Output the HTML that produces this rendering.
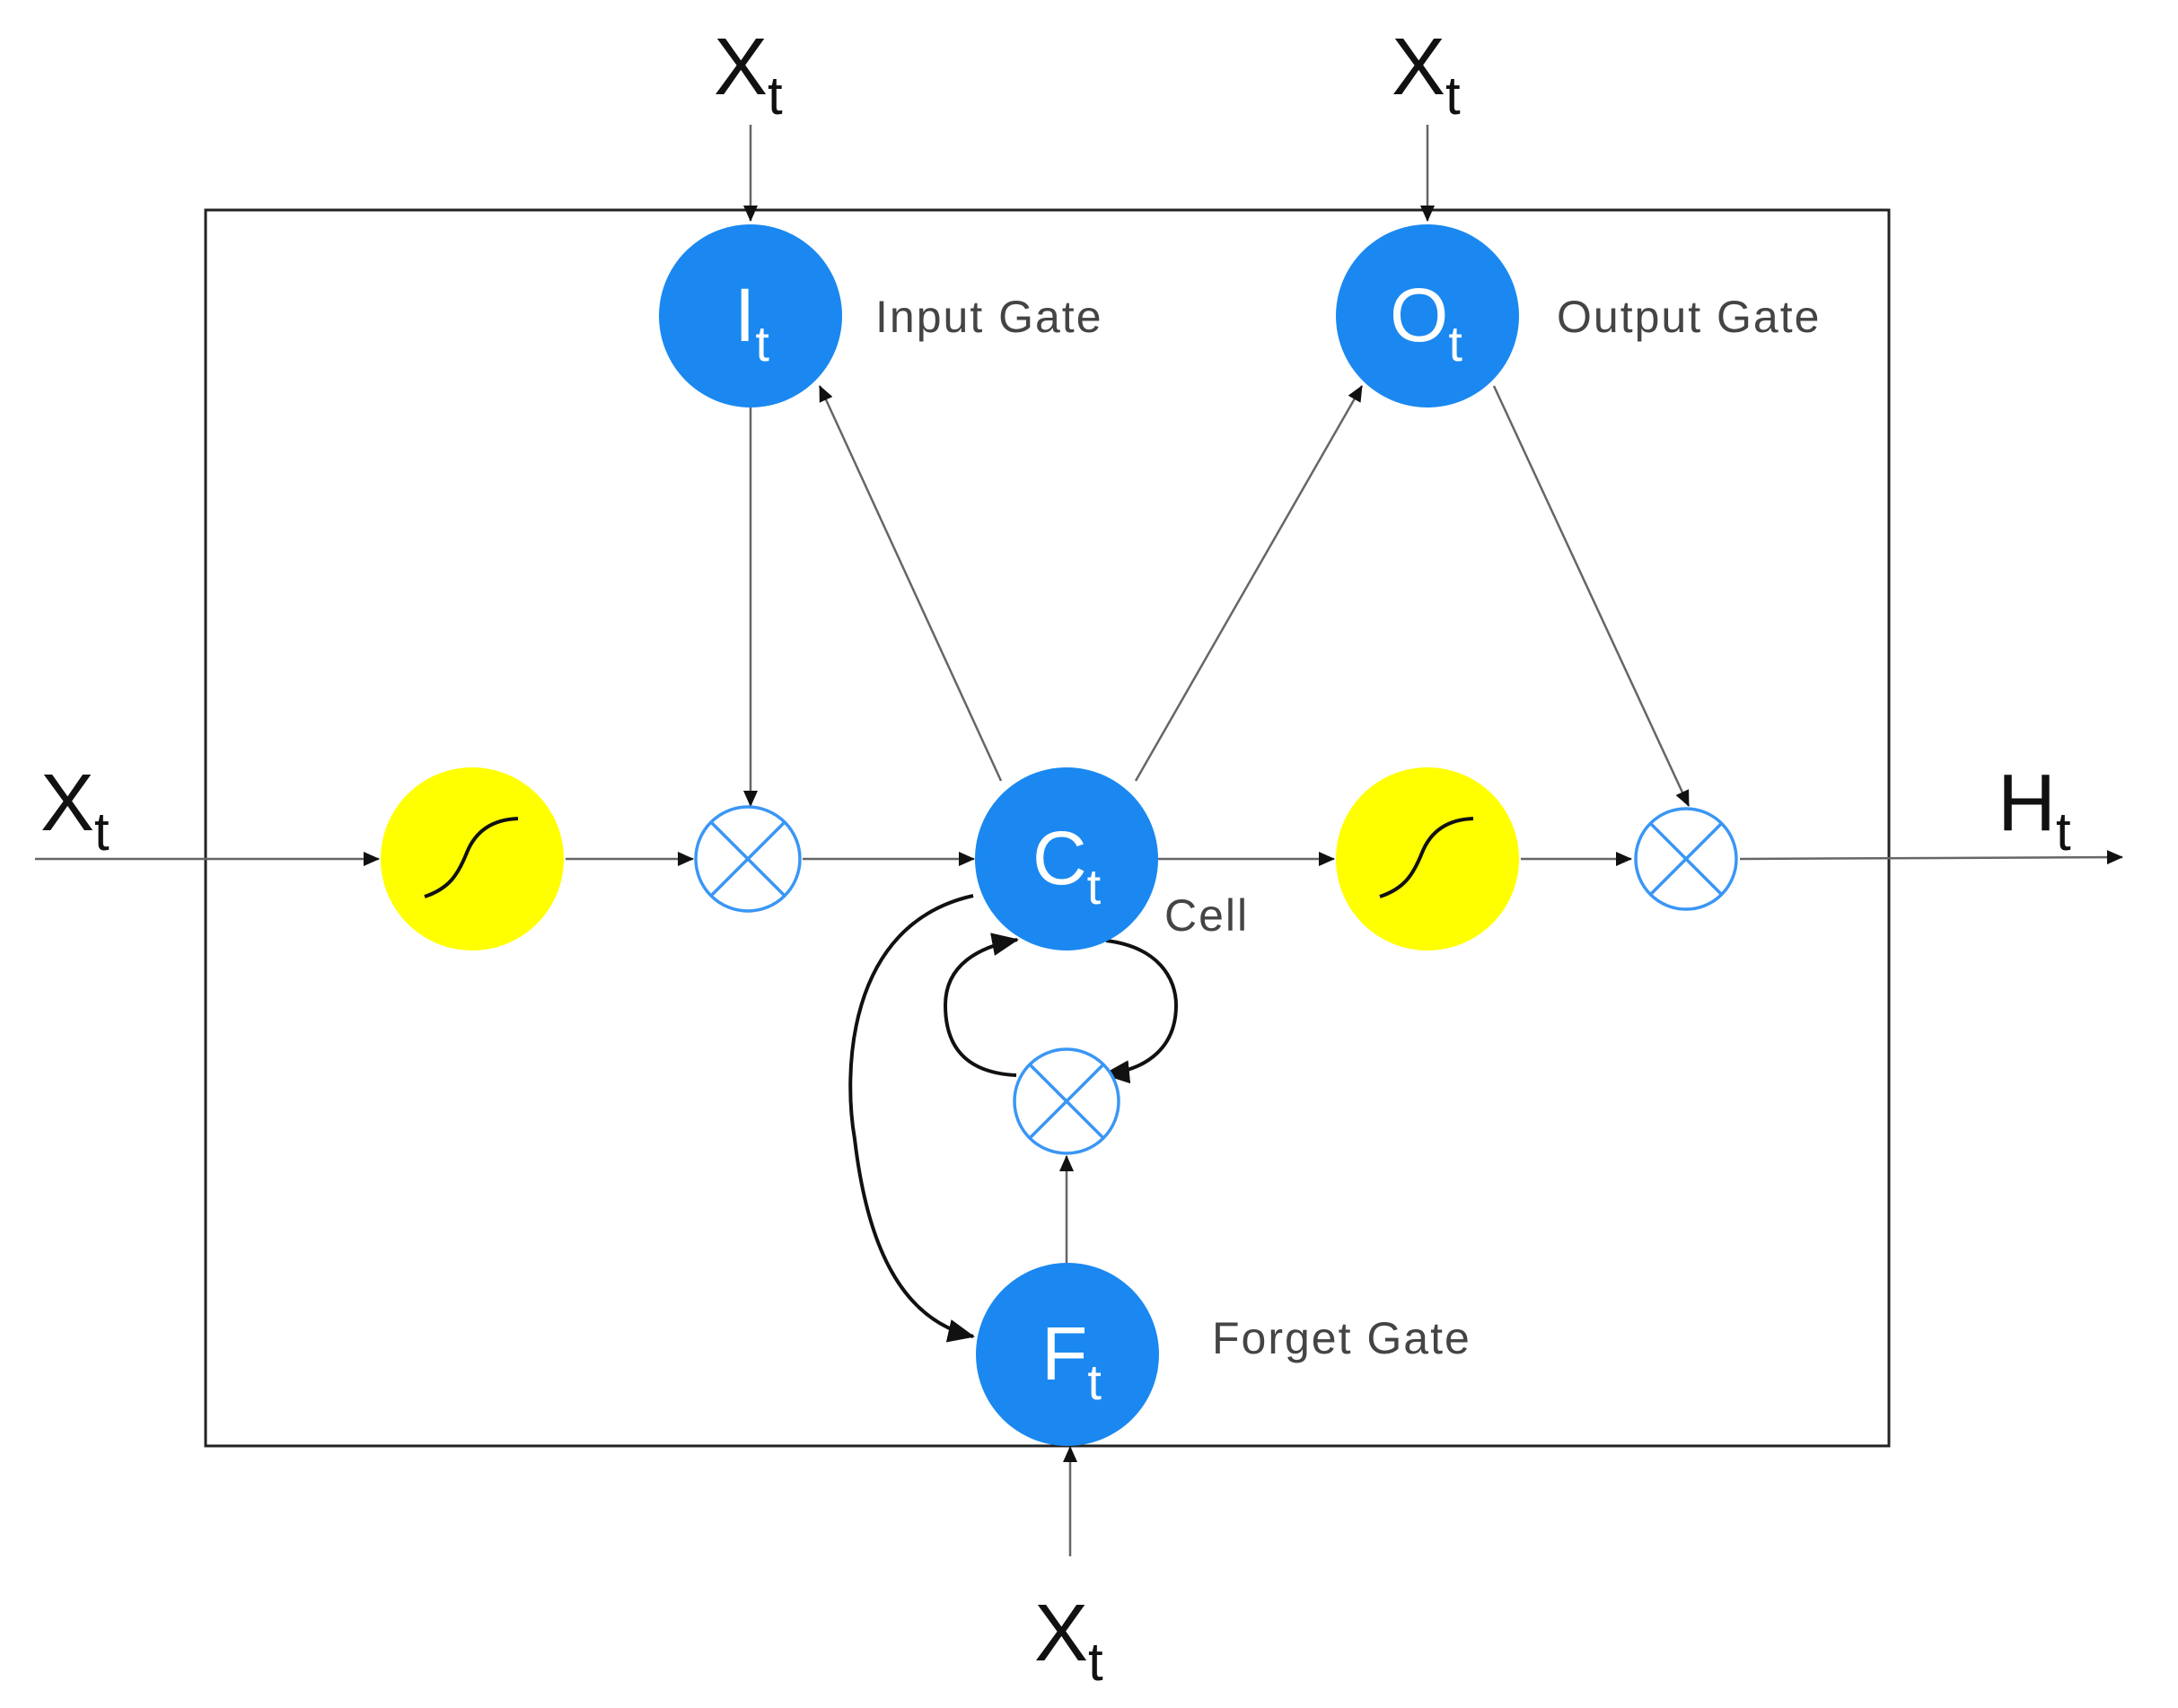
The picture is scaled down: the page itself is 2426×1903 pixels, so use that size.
<!DOCTYPE html>
<html><head><meta charset="utf-8"><style>
html,body{margin:0;padding:0;background:#fff}
svg{display:block}
.lbl{font-family:"Liberation Sans",sans-serif;fill:#444;font-size:50px;letter-spacing:2px}
.x{font-family:"Liberation Sans",sans-serif;fill:#111;font-size:90px}
.w{font-family:"Liberation Sans",sans-serif;fill:#fff;font-size:84px}
</style></head><body>
<svg width="2426" height="1903" viewBox="0 0 2426 1903" xmlns="http://www.w3.org/2000/svg">
<defs>
<marker id="a" markerWidth="10" markerHeight="10" refX="9" refY="5" orient="auto" markerUnits="userSpaceOnUse"><path d="M0,0 L10,5 L0,10 z" fill="#111"/></marker>
<marker id="b" markerWidth="30" markerHeight="26" refX="28" refY="13" orient="auto" markerUnits="userSpaceOnUse"><path d="M0,0 L30,13 L0,26 z" fill="#111"/></marker>
<marker id="c" markerWidth="18" markerHeight="16" refX="17" refY="8" orient="auto" markerUnits="userSpaceOnUse"><path d="M0,0 L18,8 L0,16 z" fill="#111"/></marker>
</defs>
<rect x="229" y="234" width="1875" height="1377" fill="none" stroke="#222" stroke-width="3"/>
<g stroke="#666" stroke-width="2.5" fill="none">
<line x1="39" y1="957" x2="422" y2="957" marker-end="url(#c)"/>
<line x1="630" y1="957" x2="772" y2="957" marker-end="url(#c)"/>
<line x1="894" y1="957" x2="1085" y2="957" marker-end="url(#c)"/>
<line x1="1290" y1="957" x2="1486" y2="957" marker-end="url(#c)"/>
<line x1="1694" y1="957" x2="1817" y2="957" marker-end="url(#c)"/>
<line x1="1938" y1="957" x2="2364" y2="955" marker-end="url(#c)"/>
<line x1="836" y1="139" x2="836" y2="246" marker-end="url(#c)"/>
<line x1="1590" y1="139" x2="1590" y2="246" marker-end="url(#c)"/>
<line x1="836" y1="452" x2="836" y2="898" marker-end="url(#c)"/>
<line x1="1115" y1="870" x2="913" y2="430" marker-end="url(#c)"/>
<line x1="1265" y1="870" x2="1517" y2="430" marker-end="url(#c)"/>
<line x1="1664" y1="430" x2="1881" y2="898" marker-end="url(#c)"/>
<line x1="1188" y1="1407" x2="1188" y2="1288" marker-end="url(#c)"/>
<line x1="1192" y1="1734" x2="1192" y2="1612" marker-end="url(#c)"/>
</g>
<g stroke="#111" stroke-width="4" fill="none">
<path d="M1084,998 C940,1030 940,1200 952,1269 C965,1380 1000,1470 1084,1489" marker-end="url(#b)"/>
<path d="M1132,1198 C1070,1195 1053,1160 1053,1120 C1053,1075 1090,1055 1133,1047" marker-end="url(#b)"/>
<path d="M1232,1048 C1290,1055 1310,1090 1310,1120 C1310,1165 1280,1192 1230,1197" marker-end="url(#b)"/>
</g>
<g fill="#1a88f0">
<circle cx="836" cy="352" r="102"/>
<circle cx="1590" cy="352" r="102"/>
<circle cx="1188" cy="957" r="102"/>
<circle cx="1189" cy="1509" r="102"/>
</g>
<g fill="#ffff00">
<circle cx="526" cy="957" r="102"/>
<circle cx="1590" cy="957" r="102"/>
</g>
<g stroke="#111" stroke-width="4" fill="none">
<path d="M473,999 C500,990 510,975 520,950 C530,925 550,913 577,912"/>
<path d="M1537,999 C1564,990 1574,975 1584,950 C1594,925 1614,913 1641,912"/>
</g>
<g stroke="#3a96f5" stroke-width="3.5" fill="#fff">
<circle cx="833" cy="957" r="58"/>
<circle cx="1878" cy="957" r="56"/>
<circle cx="1188" cy="1227" r="58"/>
</g>
<g stroke="#3a96f5" stroke-width="3.5">
<line x1="792" y1="916" x2="874" y2="998"/><line x1="874" y1="916" x2="792" y2="998"/>
<line x1="1838" y1="917" x2="1918" y2="997"/><line x1="1918" y1="917" x2="1838" y2="997"/>
<line x1="1147" y1="1186" x2="1229" y2="1268"/><line x1="1229" y1="1186" x2="1147" y2="1268"/>
</g>
<text class="w" x="818" y="380">I<tspan font-size="56" dy="22">t</tspan></text>
<text class="w" x="1548" y="380">O<tspan font-size="56" dy="22">t</tspan></text>
<text class="w" x="1150" y="985">C<tspan font-size="56" dy="22">t</tspan></text>
<text class="w" x="1160" y="1537">F<tspan font-size="56" dy="22">t</tspan></text>
<text class="lbl" x="975" y="370">Input Gate</text>
<text class="lbl" x="1734" y="370">Output Gate</text>
<text class="lbl" x="1350" y="1508">Forget Gate</text>
<text class="lbl" x="1297" y="1037">Cell</text>
<text class="x" x="795" y="105">X<tspan font-size="60" dy="22">t</tspan></text>
<text class="x" x="1550" y="105">X<tspan font-size="60" dy="22">t</tspan></text>
<text class="x" x="45" y="925">X<tspan font-size="60" dy="22">t</tspan></text>
<text class="x" x="2225" y="925">H<tspan font-size="60" dy="22">t</tspan></text>
<text class="x" x="1152" y="1850">X<tspan font-size="60" dy="22">t</tspan></text>
</svg>
</body></html>
